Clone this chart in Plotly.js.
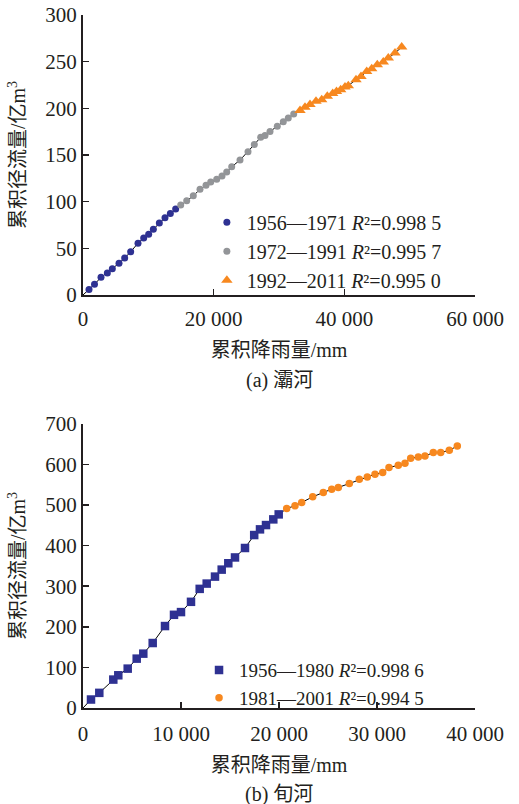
<!DOCTYPE html>
<html>
<head>
<meta charset="utf-8">
<script src="https://cdn.plot.ly/plotly-3.0.1.min.js"></script>
<style>html,body{margin:0;padding:0;background:#fff;}#chart{width:519px;height:804px;}</style>
</head>
<body>
<div id="chart"></div>
<script>
// (a) 灞河 — cumulative precipitation (mm) vs cumulative runoff (亿m³)
const baX1 = [918, 1760, 2755, 3724, 4490, 5510, 6378, 7296, 8418, 9290, 10052, 10766, 11684, 12550, 13368, 14183];
const baY1 = [5.9, 11.5, 18.9, 23.6, 28.2, 34.1, 39.5, 46.3, 55.5, 61.1, 65.1, 70.4, 77.1, 82.8, 87.4, 92.0];
const baX2 = [14954, 15872, 16882, 17908, 18826, 19546, 20464, 21276, 21995, 22760, 24030, 25255, 26219, 27199, 27857, 28622, 29740, 30658, 31423, 32250];
const baY2 = [96.3, 100.9, 106.2, 113.3, 117.6, 121.1, 124.0, 127.5, 131.7, 137.4, 144.5, 153.4, 161.2, 169.0, 170.8, 175.1, 180.7, 185.7, 189.7, 194.0];
const baX3 = [33214, 33979, 34745, 35663, 36535, 37393, 38219, 38801, 39443, 40102, 40607, 41785, 42551, 43424, 44189, 45046, 45964, 46730, 47755, 48780];
const baY3 = [197.6, 201.2, 204.0, 207.5, 209.3, 212.9, 215.8, 217.9, 220.0, 222.9, 224.3, 230.7, 234.2, 239.5, 242.4, 246.7, 249.6, 253.9, 259.2, 265.6];
const baNames = ['1956—1971 <i>R</i>²=0.998 5', '1972—1991 <i>R</i>²=0.995 7', '1992—2011 <i>R</i>²=0.995 0'];

// (b) 旬河
const xunX1 = [816, 1663, 3092, 3602, 4561, 5480, 6153, 7112, 8367, 9286, 10000, 11020, 11908, 12622, 13469, 14153, 14827, 15510, 16531, 17469, 18061, 18673, 19418, 19969];
const xunY1 = [20.9, 37.3, 70.0, 80.6, 97.0, 121.6, 133.9, 160.1, 201.9, 229.6, 236.3, 261.6, 293.5, 306.5, 323.7, 340.9, 356.6, 370.9, 394.2, 426.1, 440.1, 450.7, 464.7, 477.0];
const xunX2 = [20786, 21633, 22317, 23439, 24521, 25378, 26051, 27174, 28194, 29010, 29796, 30582, 31224, 32173, 32857, 33439, 34214, 34898, 35745, 36500, 37378, 38194];
const xunY2 = [491.7, 498.1, 506.4, 520.2, 531.0, 539.1, 543.3, 553.1, 563.7, 569.3, 575.9, 580.1, 592.4, 598.0, 603.0, 615.2, 618.4, 620.9, 629.2, 629.2, 634.9, 645.4];
const xunNames = ['1956—1980 <i>R</i>²=0.998 6', '1981—2001 <i>R</i>²=0.994 5'];

const topXTicks = [0, 20000, 40000, 60000];
const topXText = ['0', '20 000', '40 000', '60 000'];
const topYTicks = [0, 50, 100, 150, 200, 250, 300];
const botXTicks = [0, 10000, 20000, 30000, 40000];
const botXText = ['0', '10 000', '20 000', '30 000', '40 000'];
const botYTicks = [0, 100, 200, 300, 400, 500, 600, 700];

const BLUE = '#2e3192', GRAY = '#939598', ORANGE = '#f7881f', INK = '#231f20';
const FONT = '"Liberation Serif", "Times New Roman", "Noto Sans CJK SC", serif';

const traces = [
  {x: [0].concat(baX1, baX2, baX3), y: [0].concat(baY1, baY2, baY3), xaxis: 'x', yaxis: 'y', mode: 'lines',
   line: {color: '#000', width: 1}, showlegend: false, hoverinfo: 'skip'},
  {x: baX1, y: baY1, name: baNames[0], xaxis: 'x', yaxis: 'y', mode: 'markers', legend: 'legend',
   marker: {symbol: 'circle', size: 7, color: BLUE}},
  {x: baX2, y: baY2, name: baNames[1], xaxis: 'x', yaxis: 'y', mode: 'markers', legend: 'legend',
   marker: {symbol: 'circle', size: 7, color: GRAY}},
  {x: baX3, y: baY3, name: baNames[2], xaxis: 'x', yaxis: 'y', mode: 'markers', legend: 'legend',
   marker: {symbol: 'triangle-up', size: 10, color: ORANGE}},
  {x: [0].concat(xunX1, xunX2), y: [0].concat(xunY1, xunY2), xaxis: 'x2', yaxis: 'y2', mode: 'lines',
   line: {color: '#000', width: 1}, showlegend: false, hoverinfo: 'skip'},
  {x: xunX1, y: xunY1, name: xunNames[0], xaxis: 'x2', yaxis: 'y2', mode: 'markers', legend: 'legend2',
   marker: {symbol: 'square', size: 8.5, color: BLUE}},
  {x: xunX2, y: xunY2, name: xunNames[1], xaxis: 'x2', yaxis: 'y2', mode: 'markers', legend: 'legend2',
   marker: {symbol: 'circle', size: 7.5, color: ORANGE}}
];

function axis(extra) {
  return Object.assign({
    showline: true, linewidth: 2, linecolor: INK, ticks: 'inside', ticklen: 6, tickwidth: 1.5, tickcolor: INK,
    showgrid: false, zeroline: false, tickmode: 'array', automargin: false,
    tickfont: {family: FONT, size: 21, color: INK}
  }, extra);
}
const titleFont = {family: FONT, size: 20, color: INK};

const layout = {
  width: 519, height: 804,
  margin: {l: 83, r: 44, t: 15, b: 96},
  paper_bgcolor: '#fff', plot_bgcolor: '#fff',
  font: {family: FONT, size: 20, color: INK},
  xaxis: axis({domain: [0, 1], anchor: 'y', range: [0, 60000], tickvals: topXTicks, ticktext: topXText,
    ticklabelstandoff: 4, title: {text: '累积降雨量/mm', font: titleFont, standoff: 13}}),
  yaxis: axis({domain: [0.596, 1], anchor: 'x', range: [0, 300], tickvals: topYTicks,
    title: {text: '累积径流量/亿m<sup>3</sup>', font: titleFont, standoff: 14}}),
  xaxis2: axis({domain: [0, 1], anchor: 'y2', range: [0, 40000], tickvals: botXTicks, ticktext: botXText,
    ticklabelstandoff: 6, title: {text: '累积降雨量/mm', font: titleFont, standoff: 13}}),
  yaxis2: axis({domain: [0, 0.41], anchor: 'x2', range: [0, 700], tickvals: botYTicks,
    title: {text: '累积径流量/亿m<sup>3</sup>', font: titleFont, standoff: 14}}),
  legend: {x: 0.316, y: 0.729, xanchor: 'left', yanchor: 'top', bgcolor: 'rgba(0,0,0,0)',
    font: {family: FONT, size: 20, color: INK}, itemwidth: 30, borderwidth: 0},
  legend2: {x: 0.296, y: 0.082, xanchor: 'left', yanchor: 'top', bgcolor: 'rgba(0,0,0,0)',
    font: {family: FONT, size: 19, color: INK}, itemwidth: 30, borderwidth: 0},
  annotations: [
    {text: '(a) 灞河', xref: 'paper', yref: 'paper', x: 0.5, y: 0.4719, xanchor: 'center', yanchor: 'middle',
     showarrow: false, font: {family: FONT, size: 20, color: INK}},
    {text: '(b) 旬河', xref: 'paper', yref: 'paper', x: 0.5, y: -0.1255, xanchor: 'center', yanchor: 'middle',
     showarrow: false, font: {family: FONT, size: 20, color: INK}}
  ]
};

Plotly.newPlot('chart', traces, layout, {staticPlot: true, displayModeBar: false});
</script>
</body>
</html>
